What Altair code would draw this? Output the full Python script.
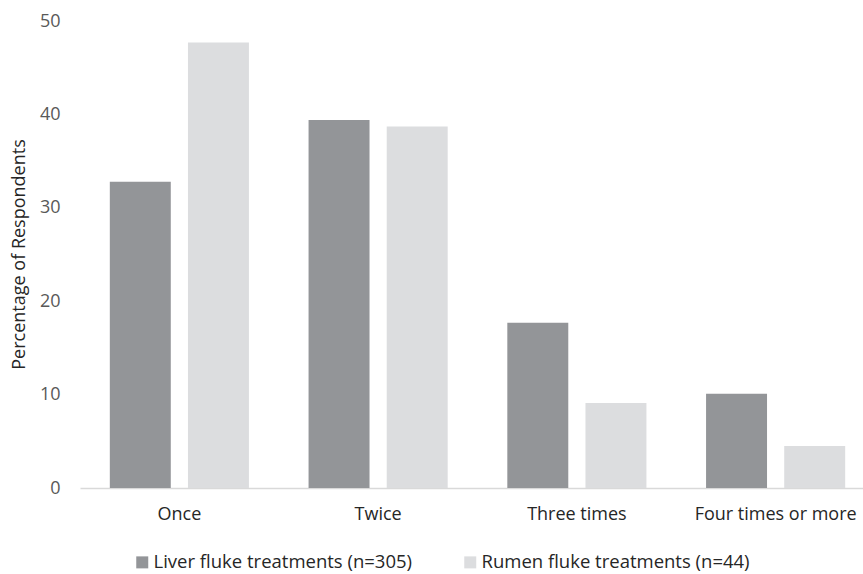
import altair as alt
import pandas as pd

# Number of fluke treatments per year, by treatment type
categories = ["Once", "Twice", "Three times", "Four times or more"]
series = ["Liver fluke treatments (n=305)", "Rumen fluke treatments (n=44)"]
liver = [32.8, 39.4, 17.7, 10.1]
rumen = [47.7, 38.7, 9.1, 4.5]

rows = []
for cat, lv, rv in zip(categories, liver, rumen):
    rows.append({"freq": cat, "group": series[0], "pct": lv})
    rows.append({"freq": cat, "group": series[1], "pct": rv})
df = pd.DataFrame(rows)

FONT = "Open Sans"

chart = (
    alt.Chart(df)
    .mark_bar()
    .encode(
        x=alt.X(
            "freq:N",
            sort=categories,
            title=None,
            scale=alt.Scale(paddingInner=0.3, paddingOuter=0.15),
            axis=alt.Axis(
                labelAngle=0,
                labelFont=FONT,
                labelFontSize=18,
                labelColor="#262626",
                labelPadding=17,
                ticks=False,
                tickSize=0,
                domainColor="#d9d9d9",
                domainWidth=1.5,
                grid=False,
            ),
        ),
        xOffset=alt.XOffset(
            "group:N",
            sort=series,
            scale=alt.Scale(paddingInner=0.22, paddingOuter=0),
        ),
        y=alt.Y(
            "pct:Q",
            title="Percentage of Respondents",
            scale=alt.Scale(domain=[0, 50], nice=False),
            axis=alt.Axis(
                values=[0, 10, 20, 30, 40, 50],
                labelFont=FONT,
                labelFontSize=18,
                labelColor="#595959",
                labelPadding=20,
                ticks=False,
                tickSize=0,
                domain=False,
                grid=False,
                titleFont=FONT,
                titleFontSize=18,
                titleFontWeight="normal",
                titleColor="#262626",
                titleX=-61,
                titleY=233,
                titleBaseline="middle",
                titleAngle=-90,
            ),
        ),
        color=alt.Color(
            "group:N",
            sort=series,
            scale=alt.Scale(domain=series, range=["#939598", "#dcdddf"]),
            legend=alt.Legend(
                title=None,
                orient="none",
                direction="horizontal",
                legendX=53,
                legendY=532,
                symbolType="square",
                symbolSize=144,
                symbolStrokeWidth=0,
                labelFont=FONT,
                labelFontSize=18.5,
                labelColor="#262626",
                labelOffset=2,
                labelLimit=0,
                columnPadding=48,
            ),
        ),
    )
    .properties(
        width=795,
        height=467,
        autosize=alt.AutoSizeParams(type="none"),
        padding={"left": 80, "top": 21, "right": -12, "bottom": 86},
    )
    .configure_view(stroke=None)
)

chart.save("out.html", embed_options={"renderer": "svg", "actions": False})
